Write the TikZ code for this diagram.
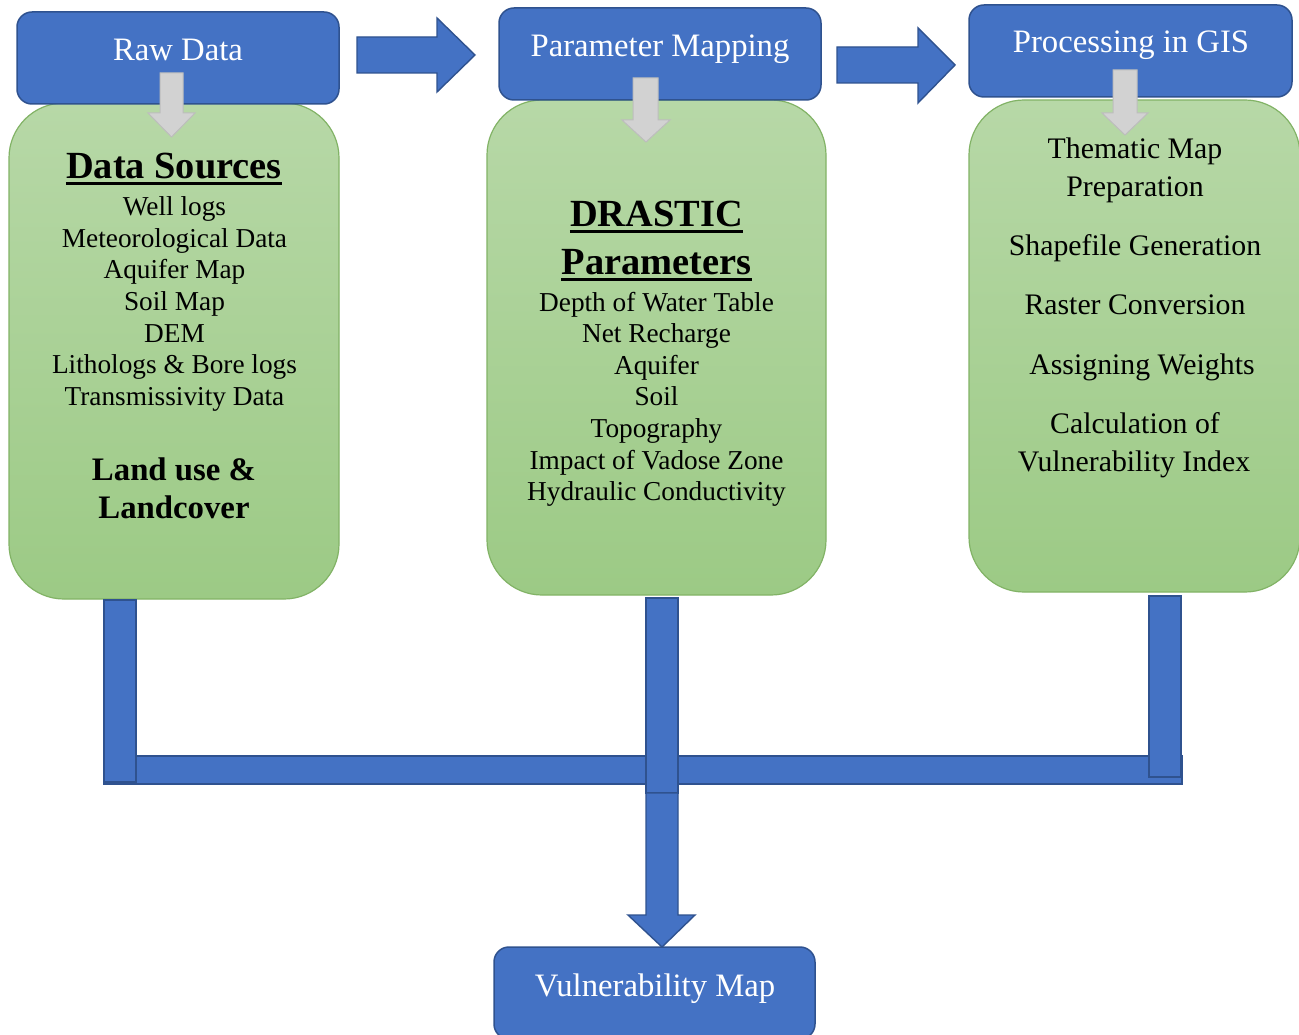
\documentclass[tikz,border=0pt]{standalone}
\usepackage{fontspec}
\setmainfont{Liberation Serif}
\usetikzlibrary{calc}
\definecolor{bfill}{HTML}{4472C4}
\definecolor{bline}{HTML}{2F528F}
\definecolor{gtop}{HTML}{B7D8A7}
\definecolor{gbot}{HTML}{9CCA85}
\definecolor{gline}{HTML}{82B366}
\definecolor{afill}{HTML}{D2D2D2}
\definecolor{aline}{HTML}{BDBDBD}
\begin{document}
\begin{tikzpicture}[x=1pt,y=-1pt,
  bluebox/.style={rectangle, draw=bline, line width=1.5pt, fill=bfill, rounded corners=15pt, inner sep=0pt},
  greenbox/.style={rectangle, draw=gline, line width=1.2pt, top color=gtop, bottom color=gbot, rounded corners=55pt, inner sep=0pt},
  grayarrow/.style={draw=aline, line width=1pt, fill=afill},
  bluearrow/.style={draw=bline, line width=1.4pt, fill=bfill},
  title/.style={text=white, font=\fontsize{32.7}{39}\selectfont, inner sep=0pt, anchor=base},
  body/.style={text=black, font=\fontsize{27.3}{32}\selectfont, inner sep=0pt, anchor=base},
  bodyR/.style={text=black, font=\fontsize{29.8}{36}\selectfont, inner sep=0pt, anchor=base},
  head/.style={text=black, font=\bfseries\fontsize{38.4}{46}\selectfont, inner sep=0pt, anchor=base},
  headS/.style={text=black, font=\bfseries\fontsize{32.8}{40}\selectfont, inner sep=0pt, anchor=base},
  uline/.style={line width=3pt, black}]
\useasboundingbox (0,0) rectangle (1299,1035);
\clip (0,0) rectangle (1299,1035);
\fill[white] (0,0) rectangle (1299,1035);

% green boxes
\node[greenbox, minimum width=330pt, minimum height=496pt] (gL) at (174,351) {};
\node[greenbox, minimum width=339pt, minimum height=495pt] (gM) at (656.5,347.5) {};
\node[greenbox, minimum width=331pt, minimum height=492pt] (gR) at (1134.5,346) {};

% blue title boxes
\node[bluebox, minimum width=322pt, minimum height=92pt] (bRaw) at (178,58) {};
\node[bluebox, minimum width=322pt, minimum height=92pt] (bPM) at (660,54) {};
\node[bluebox, minimum width=323pt, minimum height=92pt] (bGIS) at (1130.5,51) {};
\node[bluebox, minimum width=321pt, minimum height=92pt] (bVM) at (654.5,993) {};

\node[title] (tRaw) at (178,61) {Raw Data};
\node[title] (tPM) at (660,57) {Parameter Mapping};
\node[title] (tGIS) at (1131,53) {Processing in GIS};
\node[title] (tVM) at (655,996) {Vulnerability Map};

% gray arrows
\draw[grayarrow] (160,73) -- (183,73) -- (183,113) -- (195,113) -- (171.5,137) -- (148,113) -- (160,113) -- cycle;
\draw[grayarrow] (633,78) -- (658,78) -- (658,120) -- (670,120) -- (646,142) -- (622,120) -- (633,120) -- cycle;
\draw[grayarrow] (1113,70) -- (1137,70) -- (1137,113) -- (1148,113) -- (1125,135) -- (1102,113) -- (1113,113) -- cycle;

% blue block arrows between title boxes
\draw[bluearrow] (357,37) -- (437,37) -- (437,18) -- (475,55) -- (437,92) -- (437,73) -- (357,73) -- cycle;
\draw[bluearrow] (837,47) -- (918,47) -- (918,28) -- (955,65) -- (918,103) -- (918,83) -- (837,83) -- cycle;

% left box text
\node[head] (hDS) at (174,179) {Data Sources};
\draw[uline] ($(hDS.base west)+(0,5)$) -- ($(hDS.base east)+(0,5)$);
\foreach \t [count=\i] in {Well logs, Meteorological Data, Aquifer Map, Soil Map, DEM, Lithologs \& Bore logs, Transmissivity Data}
  \node[body] (ds\i) at (174.5,{216+31.5*(\i-1)}) {\t};
\node[headS] (lu1) at (174,480) {Land use \&};
\node[headS] (lu2) at (174,518) {Landcover};

% middle box text
\node[head] (hD1) at (656.5,227) {DRASTIC};
\draw[uline] ($(hD1.base west)+(0,5)$) -- ($(hD1.base east)+(0,5)$);
\node[head] (hD2) at (656.5,275) {Parameters};
\draw[uline] ($(hD2.base west)+(0,5)$) -- ($(hD2.base east)+(0,5)$);
\foreach \t [count=\i] in {Depth of Water Table, Net Recharge, Aquifer, Soil, Topography, Impact of Vadose Zone, Hydraulic Conductivity}
  \node[body] (dp\i) at (656.5,{311+31.6*(\i-1)}) {\t};

% right box text
\node[bodyR] (r1) at (1135,158.5) {Thematic Map};
\node[bodyR] (r2) at (1135,196.5) {Preparation};
\node[bodyR] (r3) at (1135,255.5) {Shapefile Generation};
\node[bodyR] (r4) at (1135,314.5) {Raster Conversion};
\node[bodyR] (r5) at (1142,374.5) {Assigning Weights};
\node[bodyR] (r6) at (1135,433.5) {Calculation of};
\node[bodyR] (r7) at (1134,471.5) {Vulnerability Index};

% bottom connectors
\draw[bluearrow] (104,756) rectangle (1182,784);
\draw[bluearrow] (104,600) rectangle (136,782);
\draw[bluearrow] (1149,596) rectangle (1181,777);
\draw[bluearrow] (646,598) rectangle (678,793);
\draw[bluearrow] (646,793) -- (678,793) -- (678,915) -- (695,915) -- (662,947) -- (628,915) -- (646,915) -- cycle;
\end{tikzpicture}
\end{document}
